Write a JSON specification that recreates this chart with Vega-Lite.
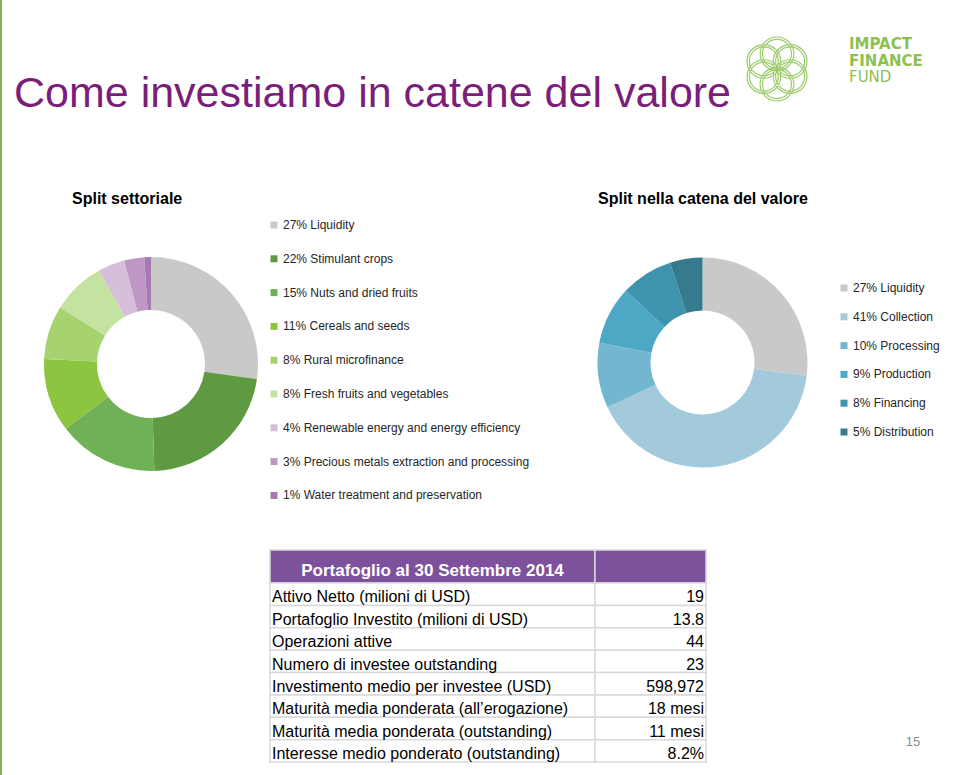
{
  "$schema": "https://vega.github.io/schema/vega-lite/v6.json",
  "background": "white",
  "padding": 0,
  "config": {"view": {"stroke": null}, "font": "Liberation Sans"},
  "datasets": {
    "tabella": [
      {"i": 1, "k": "Attivo Netto (milioni di USD)", "v": "19"},
      {"i": 2, "k": "Portafoglio Investito (milioni di USD)", "v": "13.8"},
      {"i": 3, "k": "Operazioni attive", "v": "44"},
      {"i": 4, "k": "Numero di investee outstanding", "v": "23"},
      {"i": 5, "k": "Investimento medio per investee (USD)", "v": "598,972"},
      {"i": 6, "k": "Maturità media ponderata (all’erogazione)", "v": "18 mesi"},
      {"i": 7, "k": "Maturità media ponderata (outstanding)", "v": "11 mesi"},
      {"i": 8, "k": "Interesse medio ponderato (outstanding)", "v": "8.2%"}
    ]
  },
  "bounds": "flush",
  "spacing": 12,
  "resolve": {"scale": {"color": "independent"}, "legend": {"color": "independent"}},
  "hconcat": [
    {"width": 2, "height": 775, "view": {"fill": "#7DB44F", "stroke": null}, "data": {"values": []}, "mark": "rect"},
    {
      "bounds": "flush",
      "spacing": 0,
      "resolve": {"scale": {"color": "independent"}, "legend": {"color": "independent"}},
      "vconcat": [
        {
          "bounds": "flush",
          "spacing": 40,
          "hconcat": [
            {
              "width": 691, "height": 178,
              "data": {"values": [{"t": "Come investiamo in catene del valore"}]},
              "mark": {"type": "text", "align": "left", "baseline": "middle", "fontSize": 43, "color": "#7B1E7B", "dy": 5, "font": "Liberation Sans"},
              "encoding": {"text": {"field": "t"}, "x": {"value": 0}}
            },
            {
              "width": 64, "height": 138,
              "data": {"values": [{"logo": "flower"}]},
              "mark": {"type": "point", "filled": false, "stroke": "#9DCB6B", "strokeWidth": 1.2, "opacity": 1, "size": 4540,
                "shape": "M-0.11,0.225A0.5,0.5,0,1,0,0.89,0.225A0.5,0.5,0,1,0,-0.11,0.225Z M-0.04,0.225A0.43,0.43,0,1,0,0.82,0.225A0.43,0.43,0,1,0,-0.04,0.225Z M-0.5,0.45A0.5,0.5,0,1,0,0.5,0.45A0.5,0.5,0,1,0,-0.5,0.45Z M-0.43,0.45A0.43,0.43,0,1,0,0.43,0.45A0.43,0.43,0,1,0,-0.43,0.45Z M-0.89,0.225A0.5,0.5,0,1,0,0.11,0.225A0.5,0.5,0,1,0,-0.89,0.225Z M-0.82,0.225A0.43,0.43,0,1,0,0.04,0.225A0.43,0.43,0,1,0,-0.82,0.225Z M-0.89,-0.225A0.5,0.5,0,1,0,0.11,-0.225A0.5,0.5,0,1,0,-0.89,-0.225Z M-0.82,-0.225A0.43,0.43,0,1,0,0.04,-0.225A0.43,0.43,0,1,0,-0.82,-0.225Z M-0.5,-0.45A0.5,0.5,0,1,0,0.5,-0.45A0.5,0.5,0,1,0,-0.5,-0.45Z M-0.43,-0.45A0.43,0.43,0,1,0,0.43,-0.45A0.43,0.43,0,1,0,-0.43,-0.45Z M-0.11,-0.225A0.5,0.5,0,1,0,0.89,-0.225A0.5,0.5,0,1,0,-0.11,-0.225Z M-0.04,-0.225A0.43,0.43,0,1,0,0.82,-0.225A0.43,0.43,0,1,0,-0.04,-0.225Z"},
              "encoding": {}
            },
            {
              "width": 110, "height": 49.5,
              "data": {"values": [{"line": "IMPACT"}, {"line": "FINANCE"}, {"line": "FUND"}]},
              "encoding": {
                "y": {"field": "line", "type": "nominal", "scale": {"type": "band", "domain": ["IMPACT", "FINANCE", "FUND"], "paddingInner": 0, "paddingOuter": 0}, "axis": null, "bandPosition": 0.5},
                "text": {"field": "line"},
                "x": {"value": 0}
              },
              "layer": [
                {"transform": [{"filter": "datum.line !== 'FUND'"}], "mark": {"type": "text", "align": "left", "baseline": "middle", "fontSize": 15, "fontWeight": "bold", "font": "DejaVu Sans", "color": "#8DC04F", "dy": 36}},
                {"transform": [{"filter": "datum.line === 'FUND'"}], "mark": {"type": "text", "align": "left", "baseline": "middle", "fontSize": 15, "font": "DejaVu Sans", "color": "#8DC04F", "dy": 36}}
              ]
            }
          ]
        },
        {"width": 1, "height": 219, "data": {"values": []}, "mark": "rect"},
        {
          "bounds": "flush",
          "spacing": 308.5,
          "resolve": {"scale": {"color": "independent"}, "legend": {"color": "independent"}},
          "hconcat": [
            {
              "width": 274, "height": 290,
              "title": {"text": "Split settoriale", "anchor": "start", "frame": "group", "dx": 58, "offset": -1, "baseline": "alphabetic", "fontSize": 16, "fontWeight": "bold", "font": "Liberation Sans", "color": "#000000"},
              "data": {"values": [
                {"label": "27% Liquidity", "pct": 27, "i": 1},
                {"label": "22% Stimulant crops", "pct": 22, "i": 2},
                {"label": "15% Nuts and dried fruits", "pct": 15, "i": 3},
                {"label": "11% Cereals and seeds", "pct": 11, "i": 4},
                {"label": "8% Rural microfinance", "pct": 8, "i": 5},
                {"label": "8% Fresh fruits and vegetables", "pct": 8, "i": 6},
                {"label": "4% Renewable energy and energy efficiency", "pct": 4, "i": 7},
                {"label": "3% Precious metals extraction and processing", "pct": 3, "i": 8},
                {"label": "1% Water treatment and preservation", "pct": 1, "i": 9}
              ]},
              "mark": {"type": "arc", "innerRadius": 54, "outerRadius": 107},
              "encoding": {
                "theta": {"field": "pct", "type": "quantitative", "stack": true},
                "order": {"field": "i", "type": "quantitative"},
                "color": {
                  "field": "label", "type": "nominal",
                  "scale": {
                    "domain": ["27% Liquidity", "22% Stimulant crops", "15% Nuts and dried fruits", "11% Cereals and seeds", "8% Rural microfinance", "8% Fresh fruits and vegetables", "4% Renewable energy and energy efficiency", "3% Precious metals extraction and processing", "1% Water treatment and preservation"],
                    "range": ["#C9C9C9", "#5F9A43", "#70B158", "#8CC53F", "#A7D270", "#C5E3A0", "#D7BFDC", "#BE97C5", "#A679B2"]
                  },
                  "legend": {"orient": "none", "legendX": 254, "legendY": 0, "title": null, "symbolType": "square", "symbolSize": 49, "symbolStrokeWidth": 0, "labelFontSize": 12, "labelFont": "Liberation Sans", "labelColor": "#262626", "labelOffset": 3, "rowPadding": 21.8, "labelLimit": 400, "padding": 0}
                }
              }
            },
            {
              "width": 212, "height": 287,
              "title": {"text": "Split nella catena del valore", "anchor": "start", "frame": "group", "dx": 1.5, "offset": -1, "baseline": "alphabetic", "fontSize": 16, "fontWeight": "bold", "font": "Liberation Sans", "color": "#000000"},
              "data": {"values": [
                {"label": "27% Liquidity", "pct": 27, "i": 1},
                {"label": "41% Collection", "pct": 41, "i": 2},
                {"label": "10% Processing", "pct": 10, "i": 3},
                {"label": "9% Production", "pct": 9, "i": 4},
                {"label": "8% Financing", "pct": 8, "i": 5},
                {"label": "5% Distribution", "pct": 5, "i": 6}
              ]},
              "mark": {"type": "arc", "innerRadius": 52, "outerRadius": 105},
              "encoding": {
                "theta": {"field": "pct", "type": "quantitative", "stack": true},
                "order": {"field": "i", "type": "quantitative"},
                "color": {
                  "field": "label", "type": "nominal",
                  "scale": {
                    "domain": ["27% Liquidity", "41% Collection", "10% Processing", "9% Production", "8% Financing", "5% Distribution"],
                    "range": ["#C9C9C9", "#A2CADB", "#72B7CF", "#4DA8C5", "#3E93AE", "#367A8E"]
                  },
                  "legend": {"orient": "none", "legendX": 241.5, "legendY": 63, "title": null, "symbolType": "square", "symbolSize": 49, "symbolStrokeWidth": 0, "labelFontSize": 12, "labelFont": "Liberation Sans", "labelColor": "#262626", "labelOffset": 3, "rowPadding": 16.8, "labelLimit": 300, "padding": 0}
                }
              }
            }
          ]
        },
        {"width": 1, "height": 331, "data": {"values": []}, "mark": "rect"},
        {
          "bounds": "flush",
          "spacing": 0,
          "hconcat": [
            {"width": 256, "height": 1, "data": {"values": []}, "mark": "rect"},
            {
              "width": 325, "height": 33,
              "view": {"fill": "#7E519D", "stroke": "#D9D9D9", "strokeWidth": 1.5},
              "data": {"values": [{"h": "Portafoglio al 30 Settembre 2014"}]},
              "mark": {"type": "text", "align": "center", "baseline": "middle", "fontSize": 17, "fontWeight": "bold", "color": "#FFFFFF", "dy": 4, "font": "Liberation Sans"},
              "encoding": {"text": {"field": "h"}}
            },
            {
              "width": 111, "height": 33,
              "view": {"fill": "#7E519D", "stroke": "#D9D9D9", "strokeWidth": 1.5},
              "data": {"values": []},
              "mark": "text"
            }
          ]
        },
        {"width": 1, "height": 33, "data": {"values": []}, "mark": "rect"},
        {
          "bounds": "flush",
          "spacing": 0,
          "hconcat": [
            {"width": 256, "height": 1, "data": {"values": []}, "mark": "rect"},
            {
              "width": 325, "height": 179,
              "data": {"name": "tabella"},
              "encoding": {"y": {"field": "i", "type": "ordinal", "scale": {"type": "band", "paddingInner": 0, "paddingOuter": 0}, "axis": null}},
              "layer": [
                {"mark": {"type": "rect", "fill": "#FFFFFF", "stroke": "#D9D9D9", "strokeWidth": 1.5}},
                {
                  "mark": {"type": "text", "align": "left", "baseline": "bottom", "fontSize": 16, "color": "#000000", "dx": 2, "font": "Liberation Sans"},
                  "encoding": {"y": {"field": "i", "type": "ordinal", "bandPosition": 1}, "x": {"value": 0}, "text": {"field": "k"}}
                }
              ]
            },
            {
              "width": 111, "height": 179,
              "data": {"name": "tabella"},
              "encoding": {"y": {"field": "i", "type": "ordinal", "scale": {"type": "band", "paddingInner": 0, "paddingOuter": 0}, "axis": null}},
              "layer": [
                {"mark": {"type": "rect", "fill": "#FFFFFF", "stroke": "#D9D9D9", "strokeWidth": 1.5}},
                {
                  "mark": {"type": "text", "align": "right", "baseline": "bottom", "fontSize": 16, "color": "#000000", "dx": -2, "font": "Liberation Sans"},
                  "encoding": {"y": {"field": "i", "type": "ordinal", "bandPosition": 1}, "x": {"value": "width"}, "text": {"field": "v"}}
                }
              ]
            },
            {"width": 192, "height": 1, "data": {"values": []}, "mark": "rect"},
            {
              "width": 30, "height": 166,
              "data": {"values": [{"p": "15"}]},
              "mark": {"type": "text", "align": "center", "baseline": "bottom", "fontSize": 13, "color": "#8B8B8B", "font": "Liberation Sans"},
              "encoding": {"text": {"field": "p"}, "y": {"value": "height"}}
            }
          ]
        }
      ]
    }
  ]
}
